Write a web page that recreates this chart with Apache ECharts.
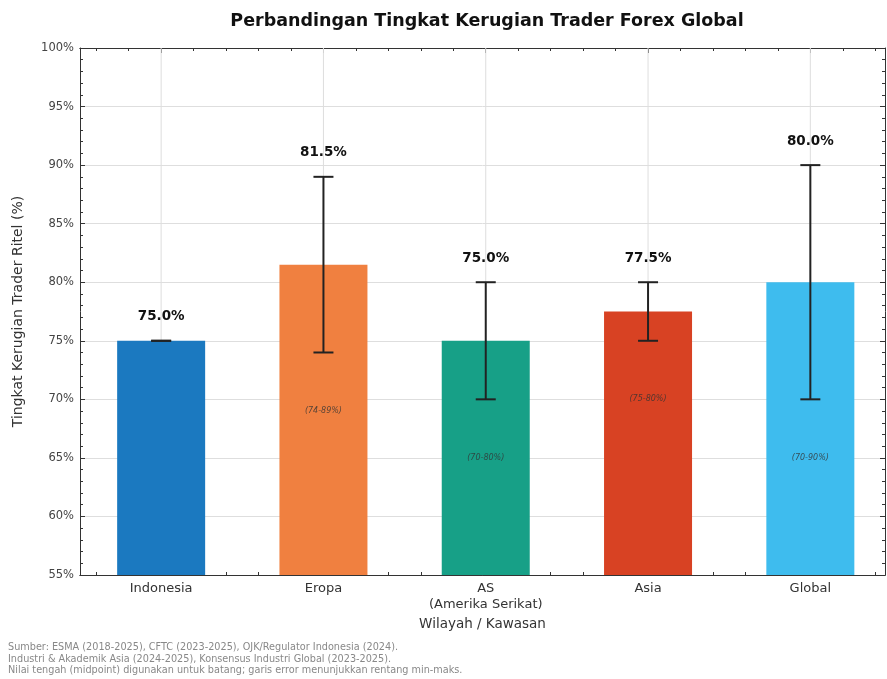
<!DOCTYPE html>
<html>
<head>
<meta charset="utf-8">
<script src="https://cdn.jsdelivr.net/npm/echarts@6/dist/echarts.min.js"></script>
<style>html,body{margin:0;padding:0;background:#fff}#c{width:887px;height:679px}</style>
</head>
<body>
<div id="c"></div>
<script>
// ---- data ----
const categories = ['Indonesia', 'Eropa', 'AS\n(Amerika Serikat)', 'Asia', 'Global'];
const midValues = [75.0, 81.5, 75.0, 77.5, 80.0];
const minValues = [75, 74, 70, 75, 70];
const maxValues = [75, 89, 80, 80, 90];
const rangeLabels = ['', '(74-89%)', '(70-80%)', '(75-80%)', '(70-90%)'];
const barColors = ['#1b79c0', '#f08040', '#17a087', '#d84223', '#3ebcee'];
const footnotes = [
  'Sumber: ESMA (2018-2025), CFTC (2023-2025), OJK/Regulator Indonesia (2024).',
  'Industri & Akademik Asia (2024-2025), Konsensus Industri Global (2023-2025).',
  "Nilai tengah (midpoint) digunakan untuk batang; garis error menunjukkan rentang min-maks."
];

const FONT = 'DejaVu Sans';
const idx = categories.map((_, i) => i);
const minorX = [];
for (let i = -2; i <= categories.length * 5 - 3; i++) { if (i % 5 !== 0) minorX.push(i / 5); }

const chart = echarts.init(document.getElementById('c'), null, {renderer: 'canvas'});
const XMIN = -0.5, XMAX = 4.46;
const axisLineStyle = {color: '#333', width: 1};

function xAx(pos, ticks, len, labels) {
  return {
    type: 'value', position: pos, min: XMIN, max: XMAX,
    axisLine: {show: true, lineStyle: axisLineStyle, onZero: false},
    axisTick: {show: true, inside: true, length: len, customValues: ticks, lineStyle: {color: '#333'}},
    axisLabel: labels ? {show: true, customValues: idx, formatter: v => categories[Math.round(v)],
      fontFamily: FONT, fontSize: 13, color: '#333', margin: 6, lineHeight: 16} : {show: false},
    splitLine: {show: false}
  };
}

const xAxes = [
  Object.assign(xAx('bottom', idx, 5, true), {
    name: 'Wilayah / Kawasan', nameLocation: 'middle', nameGap: 41,
    nameTextStyle: {fontFamily: FONT, fontSize: 13.5, color: '#333'}
  }),
  xAx('bottom', minorX, 3, false),
  xAx('top', idx, 5, false),
  xAx('top', minorX, 3, false)
];

function yAx(pos, labels) {
  return {
    type: 'value', position: pos, min: 55, max: 100, interval: 5,
    axisLine: {show: true, onZero: false, lineStyle: axisLineStyle},
    axisTick: {show: true, inside: true, length: 5, lineStyle: {color: '#333'}},
    minorTick: {show: true, splitNumber: 5, length: 3, lineStyle: {color: '#333'}},
    axisLabel: labels ? {show: true, formatter: v => v + '%', fontFamily: FONT, fontSize: 11.5, color: '#444', margin: 6} : {show: false},
    splitLine: {show: labels, lineStyle: {color: '#dedede', width: 1}},
    name: labels ? 'Tingkat Kerugian Trader Ritel (%)' : '',
    nameLocation: 'middle', nameGap: 55, nameRotate: 90,
    nameTextStyle: {fontFamily: FONT, fontSize: 14, color: '#333'}
  };
}

const barData = midValues.map((v, i) => ({value: [i, v], itemStyle: {color: barColors[i]}}));
const errData = idx.map(i => [i, minValues[i], maxValues[i], midValues[i]]);

const option = {
  animation: false,
  backgroundColor: '#fff',
  grid: {left: 80, right: 2, top: 48, bottom: 104, containLabel: false},
  xAxis: xAxes,
  yAxis: [yAx('left', true), yAx('right', false)],
  graphic: [
    {type: 'text', x: 487, y: 21, style: {text: 'Perbandingan Tingkat Kerugian Trader Forex Global', fontFamily: FONT, fontSize: 17.5, fontWeight: 'bold', fill: '#111', align: 'center', verticalAlign: 'middle'}},
    {type: 'text', left: 8, top: 642, style: {text: footnotes.join('\n'), fontFamily: FONT, fontSize: 9.7, lineHeight: 11.5, fill: '#888'}}
  ],
  series: [
    {
      type: 'custom', xAxisIndex: 0, yAxisIndex: 0, z: 1, silent: true, data: idx.map(i => [i]),
      renderItem: function (params, api) {
        const x = api.value(0);
        const a = api.coord([x, 55]), b = api.coord([x, 100]);
        return {type: 'line', shape: {x1: a[0], y1: a[1], x2: b[0], y2: b[1]}, style: {stroke: '#dedede', lineWidth: 1}};
      }
    },
    {
      type: 'bar', xAxisIndex: 0, yAxisIndex: 0, barWidth: 88, z: 3, data: barData
    },
    {
      type: 'custom', xAxisIndex: 0, yAxisIndex: 0, z: 5, data: errData,
      renderItem: function (params, api) {
        const x = api.value(0), lo = api.value(1), hi = api.value(2), mid = api.value(3);
        const i = Math.round(x);
        const pLo = api.coord([x, lo]), pHi = api.coord([x, hi]);
        const cw = 10;
        const ls = {stroke: '#222', lineWidth: 2};
        const children = [
          {type: 'line', shape: {x1: pLo[0], y1: pLo[1], x2: pHi[0], y2: pHi[1]}, style: ls},
          {type: 'line', shape: {x1: pLo[0] - cw, y1: pLo[1], x2: pLo[0] + cw, y2: pLo[1]}, style: ls},
          {type: 'line', shape: {x1: pHi[0] - cw, y1: pHi[1], x2: pHi[0] + cw, y2: pHi[1]}, style: ls},
          {type: 'text', x: pHi[0], y: pHi[1] - 24, style: {text: mid.toFixed(1) + '%', fontFamily: FONT, fontSize: 13.5, fontWeight: 'bold', fill: '#111', align: 'center', verticalAlign: 'middle'}}
        ];
        if (rangeLabels[i]) {
          const pR = api.coord([x, lo - 5]);
          children.push({type: 'text', x: pR[0], y: pR[1], style: {text: rangeLabels[i], fontFamily: FONT, fontSize: 8, fontStyle: 'italic', fill: '#333', align: 'center', verticalAlign: 'middle', opacity: 0.8}});
        }
        return {type: 'group', children: children};
      }
    }
  ]
};
chart.setOption(option);
</script>
</body>
</html>
